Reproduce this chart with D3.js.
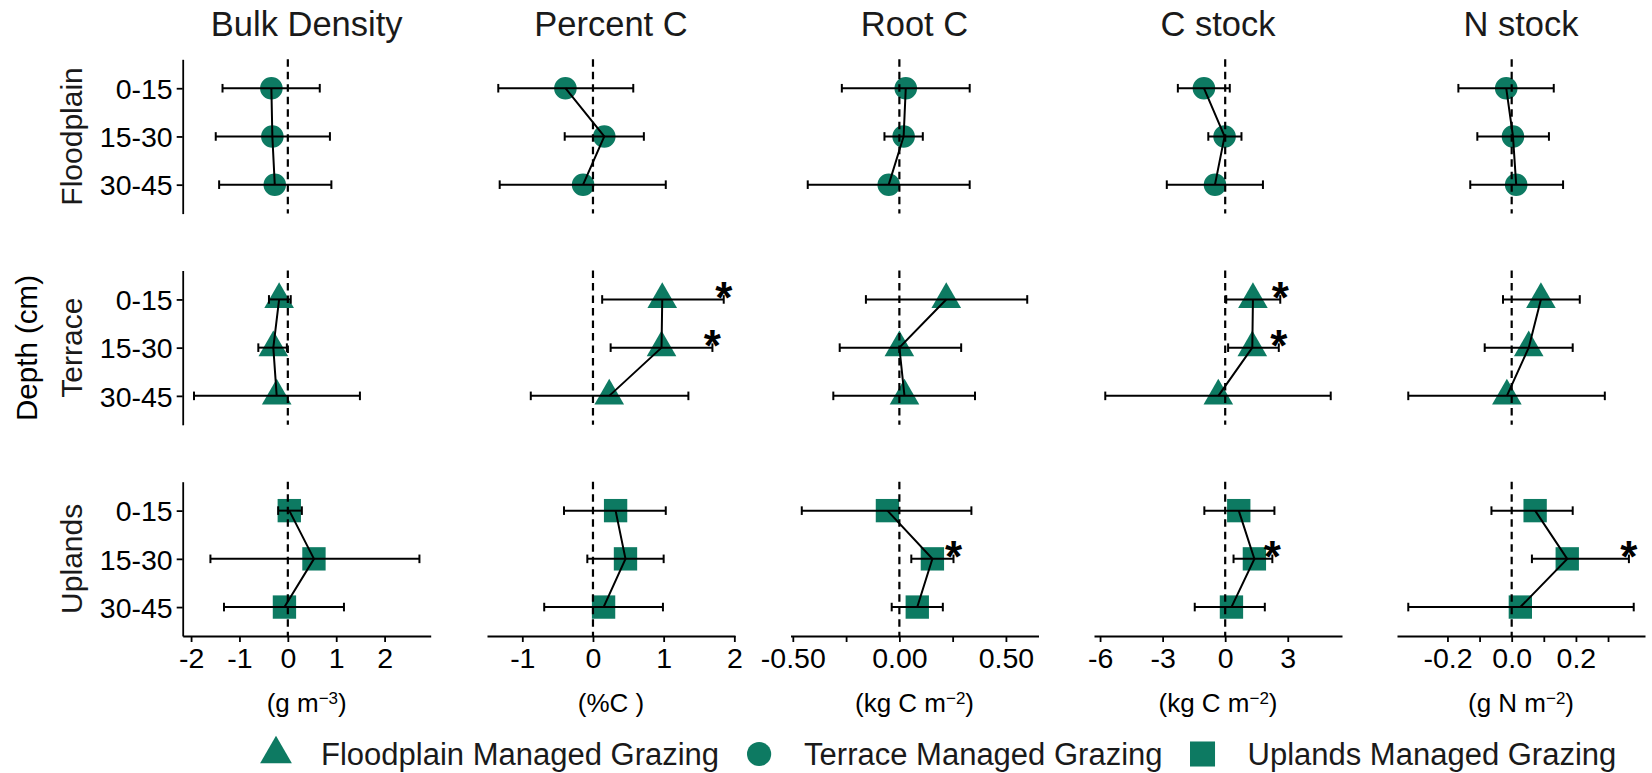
<!DOCTYPE html>
<html>
<head>
<meta charset="utf-8">
<script src="https://cdn.jsdelivr.net/npm/d3@7"></script>
<style>
  body { margin: 0; background: #fff; }
  svg { display: block; }
  text { font-family: "Liberation Sans", Arial, Helvetica, sans-serif; fill: #000; }
</style>
</head>
<body>
<svg id="chart" width="1652" height="773"></svg>
<script>
// ---- categories ----
const variables = ["Bulk Density", "Percent C", "Root C", "C stock", "N stock"];
const regions = ["Floodplain", "Terrace", "Uplands"];
const depths = ["0-15", "15-30", "30-45"];
const legendLabels = ["Floodplain Managed Grazing", "Terrace Managed Grazing", "Uplands Managed Grazing"];

// ---- effect sizes (mean, lower, upper) per variable, ordered by depth ----
const floodplainMean  = [[-0.34, -0.32, -0.27], [-0.39, 0.16, -0.14], [0.03, 0.02, -0.05], [-1.02, -0.03, -0.49], [-0.017, 0.004, 0.014]];
const floodplainLower = [[-1.35, -1.49, -1.42], [-1.34, -0.40, -1.32], [-0.27, -0.07, -0.43], [-2.27, -0.81, -2.80], [-0.166, -0.107, -0.129]];
const floodplainUpper = [[0.66, 0.87, 0.90], [0.57, 0.72, 1.03], [0.33, 0.11, 0.33], [0.22, 0.78, 1.81], [0.131, 0.116, 0.160]];
const floodplainSignificant = [[0, 0, 0], [0, 0, 0], [0, 0, 0], [0, 0, 0], [0, 0, 0]];

const terraceMean  = [[-0.18, -0.30, -0.23], [0.98, 0.97, 0.23], [0.22, 0.00, 0.024], [1.33, 1.30, -0.33], [0.091, 0.053, -0.015]];
const terraceLower = [[-0.39, -0.61, -1.94], [0.13, 0.25, -0.88], [-0.157, -0.28, -0.31], [0.05, 0.14, -5.75], [-0.027, -0.084, -0.322]];
const terraceUpper = [[0.06, -0.02, 1.49], [1.85, 1.69, 1.35], [0.60, 0.29, 0.355], [2.64, 2.57, 5.06], [0.212, 0.19, 0.29]];
const terraceSignificant = [[0, 0, 0], [1, 1, 0], [0, 0, 0], [1, 1, 0], [0, 0, 0]];

const uplandsMean  = [[0.03, 0.54, -0.07], [0.32, 0.46, 0.15], [-0.056, 0.155, 0.084], [0.65, 1.40, 0.30], [0.073, 0.173, 0.027]];
const uplandsLower = [[-0.20, -1.60, -1.32], [-0.41, -0.08, -0.69], [-0.458, 0.056, -0.036], [-1.00, 0.40, -1.46], [-0.063, 0.063, -0.322]];
const uplandsUpper = [[0.29, 2.72, 1.16], [1.03, 1.00, 0.99], [0.338, 0.254, 0.204], [2.36, 2.26, 1.90], [0.19, 0.365, 0.38]];
const uplandsSignificant = [[0, 0, 0], [0, 0, 0], [0, 1, 0], [0, 1, 0], [0, 1, 0]];

// ---- x-axis ticks and labels per variable ----
const bulkDensityTicks = [-2, -1, 0, 1, 2];
const bulkDensityTickLabels = ["-2", "-1", "0", "1", "2"];
const percentCTicks = [-1, 0, 1, 2];
const percentCTickLabels = ["-1", "0", "1", "2"];
const rootCTicks = [-0.5, -0.25, 0, 0.25, 0.5];
const rootCTickLabels = ["-0.50", "", "0.00", "", "0.50"];
const cStockTicks = [-6, -3, 0, 3];
const cStockTickLabels = ["-6", "-3", "0", "3"];
const nStockTicks = [-0.2, -0.1, 0, 0.1, 0.2, 0.3];
const nStockTickLabels = ["-0.2", "", "0.0", "", "0.2", ""];

// unit titles: [text, superscript, closing]
const unitTitles = [["(g m", "-3", ")"], ["(%C )", "", ""], ["(kg C m", "-2", ")"], ["(kg C m", "-2", ")"], ["(g N m", "-2", ")"]];

// ---- assemble ----
const regionData = [
  { name: regions[0], mean: floodplainMean, lower: floodplainLower, upper: floodplainUpper, sig: floodplainSignificant, shape: d3.symbolCircle },
  { name: regions[1], mean: terraceMean, lower: terraceLower, upper: terraceUpper, sig: terraceSignificant, shape: d3.symbolTriangle },
  { name: regions[2], mean: uplandsMean, lower: uplandsLower, upper: uplandsUpper, sig: uplandsSignificant, shape: d3.symbolSquare }
];
const tickSets = [
  [bulkDensityTicks, bulkDensityTickLabels],
  [percentCTicks, percentCTickLabels],
  [rootCTicks, rootCTickLabels],
  [cStockTicks, cStockTickLabels],
  [nStockTicks, nStockTickLabels]
];

const color = "#0D7A62";
const shapeSize = { circle: 400, triangle: 380, square: 545 };
const sizeOf = s => s === d3.symbolCircle ? shapeSize.circle : s === d3.symbolTriangle ? shapeSize.triangle : shapeSize.square;

const panelLeft = [182.7, 487, 790.5, 1094, 1397];
const panelWidth = 248;
const panelTop = [59.3, 270.5, 481.7];
const panelHeight = 154.3;

const svg = d3.select("#chart");
svg.append("rect").attr("width", 1652).attr("height", 773).attr("fill", "#fff");

// x scales: data range of the intervals with 5% expansion
const xScales = variables.map((v, j) => {
  let lo = d3.min(regionData, r => d3.min(r.lower[j]));
  let hi = d3.max(regionData, r => d3.max(r.upper[j]));
  const pad = (hi - lo) * 0.05;
  return d3.scaleLinear().domain([lo - pad, hi + pad]).range([panelLeft[j], panelLeft[j] + panelWidth]);
});

// column titles
variables.forEach((v, j) => {
  svg.append("text")
    .attr("x", panelLeft[j] + panelWidth / 2).attr("y", 36)
    .attr("text-anchor", "middle")
    .style("font-size", "34.5px").style("fill", "#1a1a1a")
    .text(v);
});

regionData.forEach((r, i) => {
  const y = d3.scalePoint().domain(depths).range([panelTop[i], panelTop[i] + panelHeight]).padding(0.6);

  // row label
  svg.append("text")
    .attr("transform", `translate(81.5,${panelTop[i] + panelHeight / 2}) rotate(-90)`)
    .attr("text-anchor", "middle")
    .style("font-size", "30px").style("fill", "#1a1a1a")
    .text(r.name);

  // left axis on first column
  const ya = svg.append("g")
    .attr("transform", `translate(${panelLeft[0]},0)`)
    .call(d3.axisLeft(y).tickSize(6).tickSizeOuter(0).tickPadding(4));
  ya.select(".domain").attr("stroke", "#000").attr("stroke-width", 1.8);
  ya.selectAll(".tick line").attr("stroke", "#000").attr("stroke-width", 1.8);
  ya.selectAll(".tick text").style("font-size", "28.5px").attr("dy", "0.36em").attr("fill", "#000");

  variables.forEach((v, j) => {
    const x = xScales[j];
    const g = svg.append("g");
    const rows = depths.map((d, k) => ({ depth: d, mean: r.mean[j][k], lo: r.lower[j][k], hi: r.upper[j][k], sig: r.sig[j][k] }));

    // points
    g.selectAll("path.pt").data(rows).join("path")
      .attr("class", "pt")
      .attr("transform", d => `translate(${x(d.mean)},${y(d.depth)})`)
      .attr("d", d3.symbol().type(r.shape).size(sizeOf(r.shape)))
      .attr("fill", color);

    // error bars
    const eb = g.selectAll("g.eb").data(rows).join("g").attr("class", "eb")
      .attr("stroke", "#000").attr("stroke-width", 2).attr("fill", "none");
    eb.append("line").attr("x1", d => x(d.lo)).attr("x2", d => x(d.hi)).attr("y1", d => y(d.depth)).attr("y2", d => y(d.depth));
    eb.append("line").attr("x1", d => x(d.lo)).attr("x2", d => x(d.lo)).attr("y1", d => y(d.depth) - 4.3).attr("y2", d => y(d.depth) + 4.3);
    eb.append("line").attr("x1", d => x(d.hi)).attr("x2", d => x(d.hi)).attr("y1", d => y(d.depth) - 4.3).attr("y2", d => y(d.depth) + 4.3);

    // connecting path through depths
    g.append("path").datum(rows)
      .attr("d", d3.line().x(d => x(d.mean)).y(d => y(d.depth)))
      .attr("fill", "none").attr("stroke", "#000").attr("stroke-width", 2);

    // zero reference
    g.append("line")
      .attr("x1", x(0)).attr("x2", x(0))
      .attr("y1", panelTop[i]).attr("y2", panelTop[i] + panelHeight)
      .attr("stroke", "#000").attr("stroke-width", 2.2).attr("stroke-dasharray", "7.5,5");

    // significance marks at the upper interval end
    g.selectAll("text.sig").data(rows.filter(d => d.sig)).join("text")
      .attr("class", "sig")
      .attr("x", d => x(d.hi)).attr("y", d => y(d.depth))
      .attr("dy", "0.3em")
      .attr("text-anchor", "middle")
      .style("font-size", "44px").style("font-weight", "bold")
      .text("*");

    // bottom axis on last row
    if (i === regionData.length - 1) {
      const [tv, tl] = tickSets[j];
      const xa = svg.append("g")
        .attr("transform", `translate(0,${panelTop[i] + panelHeight})`)
        .call(d3.axisBottom(x).tickValues(tv).tickFormat((d, k) => tl[k]).tickSize(6).tickSizeOuter(0).tickPadding(6));
      xa.select(".domain").attr("stroke", "#000").attr("stroke-width", 1.8);
      xa.selectAll(".tick line").attr("stroke", "#000").attr("stroke-width", 1.8);
      xa.selectAll(".tick text").style("font-size", "28.5px").attr("fill", "#000");

      const ut = unitTitles[j];
      const t = svg.append("text")
        .attr("x", panelLeft[j] + panelWidth / 2).attr("y", 712)
        .attr("text-anchor", "middle")
        .style("font-size", "26px");
      t.append("tspan").text(ut[0]);
      if (ut[1]) t.append("tspan").attr("dy", "-0.5em").style("font-size", "17px").text(ut[1].replace("-", "\u2212"));
      if (ut[2]) t.append("tspan").attr("dy", "0.33em").text(ut[2]);
    }
  });
});

// y-axis title
svg.append("text")
  .attr("transform", "translate(37,348) rotate(-90)")
  .attr("text-anchor", "middle")
  .style("font-size", "29.5px")
  .text("Depth (cm)");

// legend
const legendShapes = [d3.symbolTriangle, d3.symbolCircle, d3.symbolSquare];
const legend = svg.append("g");
let lx = 276;
legendLabels.forEach((lab, k) => {
  legend.append("path")
    .attr("transform", `translate(${lx},754)`)
    .attr("d", d3.symbol().type(legendShapes[k]).size(sizeOf(legendShapes[k]) * 1.15))
    .attr("fill", color);
  const t = legend.append("text")
    .attr("x", lx + 45).attr("y", 765)
    .style("font-size", "31px").style("fill", "#1a1a1a")
    .text(lab);
  lx = lx + 45 + t.node().getComputedTextLength() + 40;
});
</script>
</body>
</html>
